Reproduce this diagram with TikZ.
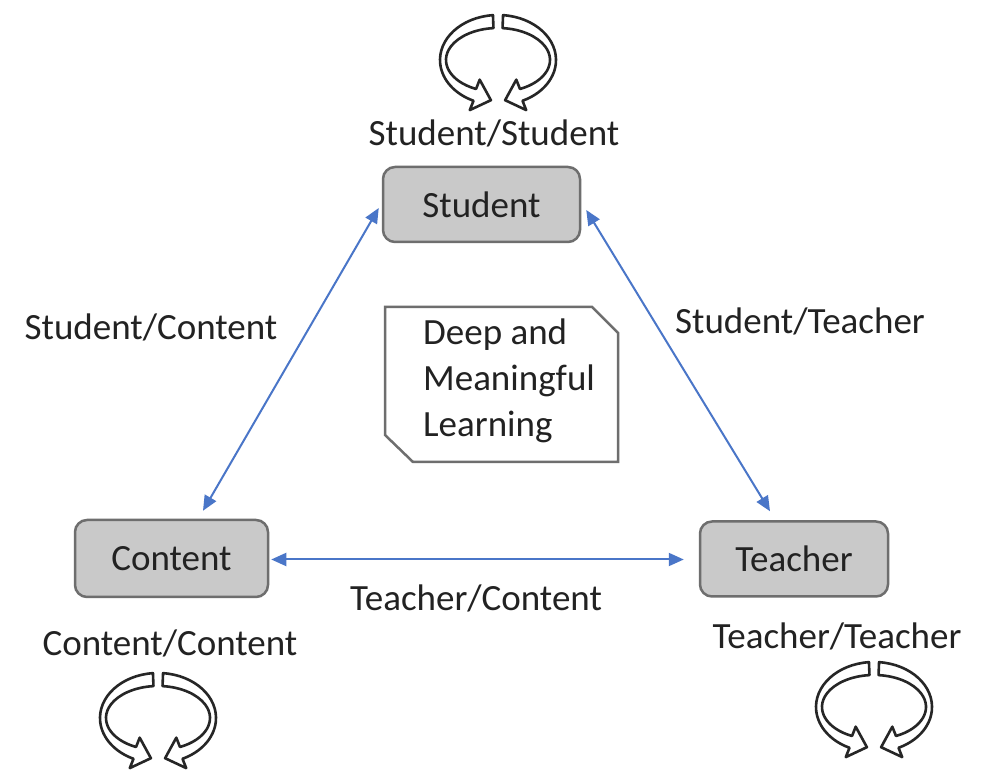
\documentclass[tikz,border=0pt]{standalone}
\usepackage{fontspec}
\setmainfont{Carlito}
\usetikzlibrary{arrows.meta}
\definecolor{boxfill}{HTML}{C9C9C9}
\definecolor{boxline}{HTML}{6E6E6E}
\definecolor{linkblue}{HTML}{4A76C8}
\definecolor{txt}{HTML}{222222}
\newcommand\dfont{\fontsize{37}{46}\selectfont}
\tikzset{
  every node/.style={font=\dfont, text=txt},
  ent/.style={draw=boxline, fill=boxfill, line width=2.5pt, rounded corners=12pt, inner sep=0pt},
  notebox/.style={draw=boxline, line width=2.5pt, fill=white, line join=miter},
  link/.style={draw=linkblue, line width=2pt, {Triangle[length=15pt,width=13pt]}-{Triangle[length=15pt,width=13pt]}},
  ringline/.style={draw=black!85, line width=2.6pt, fill=white, line join=round},
  pics/ringhalf/.style={code={
    \path[ringline] (95:58 and 45) arc[start angle=95,end angle=245,x radius=58pt,y radius=45pt]
      -- (-28.2,-50.1) -- (-7.1,-40.2) -- (-18.3,-19.7)
      -- (245:52 and 32) arc[start angle=245,end angle=95,x radius=52pt,y radius=32pt] -- cycle;
  }}
}
\begin{document}
\begin{tikzpicture}[x=1pt,y=1pt]
\useasboundingbox[fill=white] (0,0) rectangle (992,783);

% entity boxes
\node[ent, minimum width=197pt, minimum height=75pt] (student) at (481.5,578.5) {Student};
\node[ent, minimum width=193pt, minimum height=77pt] (content) at (171.5,224.5) {Content};
\node[ent, minimum width=188pt, minimum height=75pt] (teacher) at (794,224) {Teacher};

% note (folded-corner card)
\path[notebox] (385,476) -- (592,476) -- (618,450) -- (618,321) -- (413,321) -- (385,348) -- cycle;
\node[anchor=base west, align=left, inner sep=0pt] (notetext) at (423,346) {Deep and\\Meaningful\\Learning};

% links
\draw[link] ([xshift=-3pt,yshift=-3.5pt]student.west) -- ([xshift=31.5pt,yshift=8pt]content.north);
\draw[link] ([xshift=5pt,yshift=-5.5pt]student.east) -- ([xshift=-24pt,yshift=9pt]teacher.north);
\draw[link] ([xshift=2pt,yshift=-1pt]content.east) -- ([xshift=-15pt,yshift=-0.5pt]teacher.west);

% labels
\node (lss) at (494,650) {Student/Student};
\node (lsc) at (151,456) {Student/Content};
\node (lst) at (800,462) {Student/Teacher};
\node (ltc) at (476,185) {Teacher/Content};
\node (lcc) at (170,140) {Content/Content};
\node (ltt) at (837,147) {Teacher/Teacher};

% cycle arrows
\coordinate (ringS) at (498,723);
\coordinate (ringC) at (158,65);
\coordinate (ringT) at (874,76);
\foreach \c in {ringS,ringC,ringT}{
  \pic at (\c) {ringhalf};
  \pic[xscale=-1] at (\c) {ringhalf};
}
\end{tikzpicture}
\end{document}
